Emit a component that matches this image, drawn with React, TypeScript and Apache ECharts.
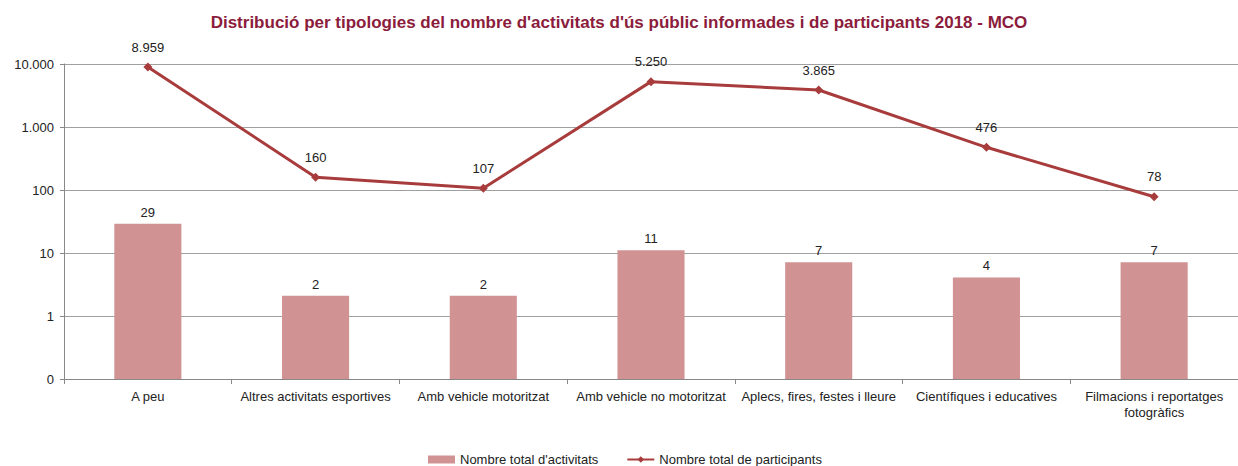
import React, { useEffect, useRef } from "react";
import * as echarts from "echarts";

const categories = [
  "A peu",
  "Altres activitats esportives",
  "Amb vehicle motoritzat",
  "Amb vehicle no motoritzat",
  "Aplecs, fires, festes i lleure",
  "Científiques i educatives",
  "Filmacions i reportatges\nfotogràfics",
];
const activitats = [29, 2, 2, 11, 7, 4, 7];
const participants = [8959, 160, 107, 5250, 3865, 476, 78];
const axisMin = 0.1;
const axisMax = 10000;

const fmt = (v: number) => {
  if (v < 1) return "0";
  return String(Math.round(v)).replace(/\B(?=(\d{3})+(?!\d))/g, ".");
};

const FONT = "Liberation Sans";
const FS = 13;

export default function App() {
  const ref = useRef<HTMLDivElement>(null);
  useEffect(() => {
    if (!ref.current) return;
    const chart = echarts.init(ref.current, undefined, { renderer: "svg" });
    chart.setOption({
      animation: false,
      textStyle: { fontFamily: FONT },
      title: {
        text: "Distribució per tipologies del nombre d'activitats d'ús públic informades i de participants 2018 - MCO",
        left: "center",
        top: 9,
        textStyle: { fontFamily: FONT, fontSize: 17, fontWeight: "bold", color: "#8B1C3C" },
      },
      legend: {
        bottom: 0,
        left: 428,
        padding: 0,
        itemGap: 28,
        itemWidth: 27,
        itemHeight: 8,
        textStyle: { fontFamily: FONT, fontSize: FS, color: "#222" },
        data: [
          { name: "Nombre total d'activitats", icon: "rect" },
          { name: "Nombre total de participants" },
        ],
      },
      grid: { left: 64, top: 64, width: 1179, height: 315, containLabel: false },
      xAxis: {
        type: "category",
        data: categories,
        axisLine: { lineStyle: { color: "#888" } },
        axisTick: { show: true, length: 5, lineStyle: { color: "#888" } },
        axisLabel: { fontFamily: FONT, fontSize: FS, color: "#222", margin: 9, interval: 0, lineHeight: 16 },
      },
      yAxis: {
        type: "log",
        logBase: 10,
        min: axisMin,
        max: axisMax,
        axisLine: { show: true, lineStyle: { color: "#888" } },
        axisTick: { show: true, length: 4, lineStyle: { color: "#888" } },
        splitLine: { lineStyle: { color: "#a0a0a0" } },
        axisLabel: { fontFamily: FONT, fontSize: FS, color: "#222", margin: 10, formatter: (v: number) => fmt(v) },
      },
      series: [
        {
          name: "base",
          type: "bar",
          stack: "bars",
          data: activitats.map(() => axisMin),
          barWidth: "40%",
          itemStyle: { color: "transparent" },
          silent: true,
        },
        {
          name: "Nombre total d'activitats",
          type: "bar",
          stack: "bars",
          data: activitats,
          barWidth: "40%",
          itemStyle: { color: "#D09292" },
          label: { show: true, position: "top", fontFamily: FONT, fontSize: FS, color: "#222", formatter: (p: any) => fmt(p.value) },
        },
        {
          name: "Nombre total de participants",
          type: "line",
          data: participants,
          symbol: "diamond",
          symbolSize: 9,
          lineStyle: { color: "#A83C3C", width: 3 },
          itemStyle: { color: "#A83C3C" },
          label: { show: true, position: "top", distance: 9, fontFamily: FONT, fontSize: FS, color: "#222", formatter: (p: any) => fmt(p.value) },
        },
      ],
    });
    return () => chart.dispose();
  }, []);
  return <div ref={ref} style={{ position: "absolute", left: 0, top: 0, width: 1238, height: 466 }} />;
}
